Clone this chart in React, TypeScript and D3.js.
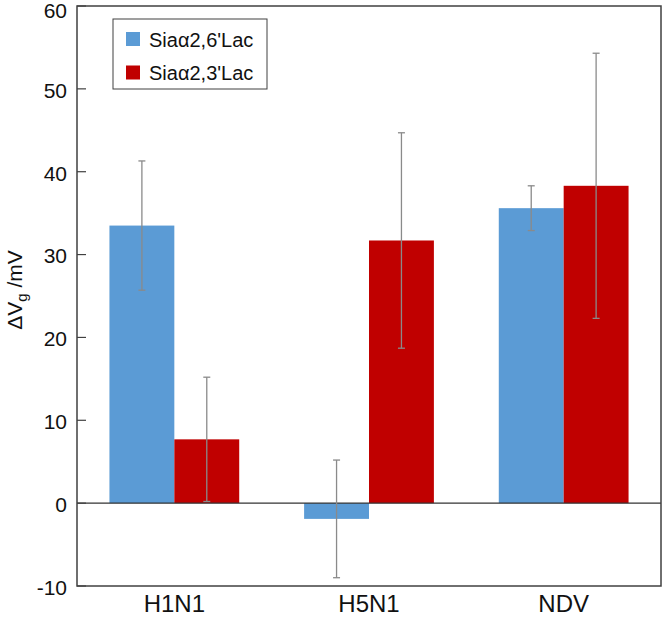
import React from "react";
import * as d3 from "d3";

const categories = ["H1N1", "H5N1", "NDV"];
const seriesNames = ["Siaα2,6'Lac", "Siaα2,3'Lac"];
const seriesColors = ["#5B9BD5", "#C00000"];
const values26 = [33.5, -1.9, 35.6];
const errors26 = [7.8, 7.1, 2.7];
const values23 = [7.7, 31.7, 38.3];
const errors23 = [7.5, 13.0, 16.0];
const yTicks = [-10, 0, 10, 20, 30, 40, 50, 60];

const W = 664, H = 617;
const M = { left: 77, right: 3, top: 6, bottom: 31 };

export default function App() {
  const x0 = d3.scaleBand<string>().domain(categories).range([M.left, W - M.right]).paddingInner(1 / 3).paddingOuter(1 / 6);
  const x1 = d3.scaleBand<string>().domain(["0", "1"]).range([0, x0.bandwidth()]);
  const y = d3.scaleLinear().domain([-10, 60]).range([H - M.bottom, M.top]);
  const series = [
    { vals: values26, errs: errors26 },
    { vals: values23, errs: errors23 },
  ];
  const font = "'Liberation Sans', Arial, sans-serif";
  return (
    <svg width={W} height={H} style={{ position: "absolute", left: 0, top: 0, background: "#fff" }} fontFamily={font}>
      {series.map((s, si) =>
        categories.map((c, ci) => {
          const v = s.vals[ci];
          const bx = (x0(c) as number) + (x1(String(si)) as number);
          return (
            <rect key={`b${si}${ci}`} x={bx} width={x1.bandwidth()} y={Math.min(y(v), y(0))} height={Math.abs(y(v) - y(0))} fill={seriesColors[si]} />
          );
        })
      )}
      <line x1={M.left} x2={W - M.right} y1={y(0)} y2={y(0)} stroke="#333" strokeWidth={1.2} />
      {series.map((s, si) =>
        categories.map((c, ci) => {
          const v = s.vals[ci], e = s.errs[ci];
          const cx = (x0(c) as number) + (x1(String(si)) as number) + x1.bandwidth() / 2;
          return (
            <g key={`e${si}${ci}`} stroke="#8a8a8a" strokeWidth={1.3}>
              <line x1={cx} x2={cx} y1={y(v + e)} y2={y(v - e)} />
              <line x1={cx - 3.5} x2={cx + 3.5} y1={y(v + e)} y2={y(v + e)} />
              <line x1={cx - 3.5} x2={cx + 3.5} y1={y(v - e)} y2={y(v - e)} />
            </g>
          );
        })
      )}
      <rect x={M.left} y={M.top} width={W - M.right - M.left} height={H - M.bottom - M.top} fill="none" stroke="#404040" strokeWidth={1.5} />
      {yTicks.map((t) => (
        <g key={t}>
          <line x1={M.left} x2={M.left + 9} y1={y(t)} y2={y(t)} stroke="#404040" strokeWidth={1.2} />
          <text x={M.left - 10} y={Math.max(y(t) + 1.5, 11)} dy="0.35em" textAnchor="end" fontSize={21} fill="#111">{t}</text>
        </g>
      ))}
      {categories.map((c) => (
        <text key={c} x={(x0(c) as number) + x0.bandwidth() / 2} y={612} textAnchor="middle" fontSize={24} fill="#111">{c}</text>
      ))}
      <text transform={`translate(22,${(y(60) + y(-10)) / 2 - 6}) rotate(-90)`} textAnchor="middle" fontSize={21} fill="#111">
        Δ<tspan>V</tspan><tspan fontSize={15} dy={5}>g</tspan><tspan dy={-5}> /mV</tspan>
      </text>
      <rect x={113} y={19} width={154} height={70} fill="#fff" stroke="#404040" strokeWidth={1} />
      {seriesNames.map((n, i) => (
        <g key={n}>
          <rect x={126} y={32 + i * 33.5} width={14} height={14} fill={seriesColors[i]} />
          <text x={149} y={39.5 + i * 33.5} dy="0.35em" fontSize={20} fill="#111">{n}</text>
        </g>
      ))}
    </svg>
  );
}
